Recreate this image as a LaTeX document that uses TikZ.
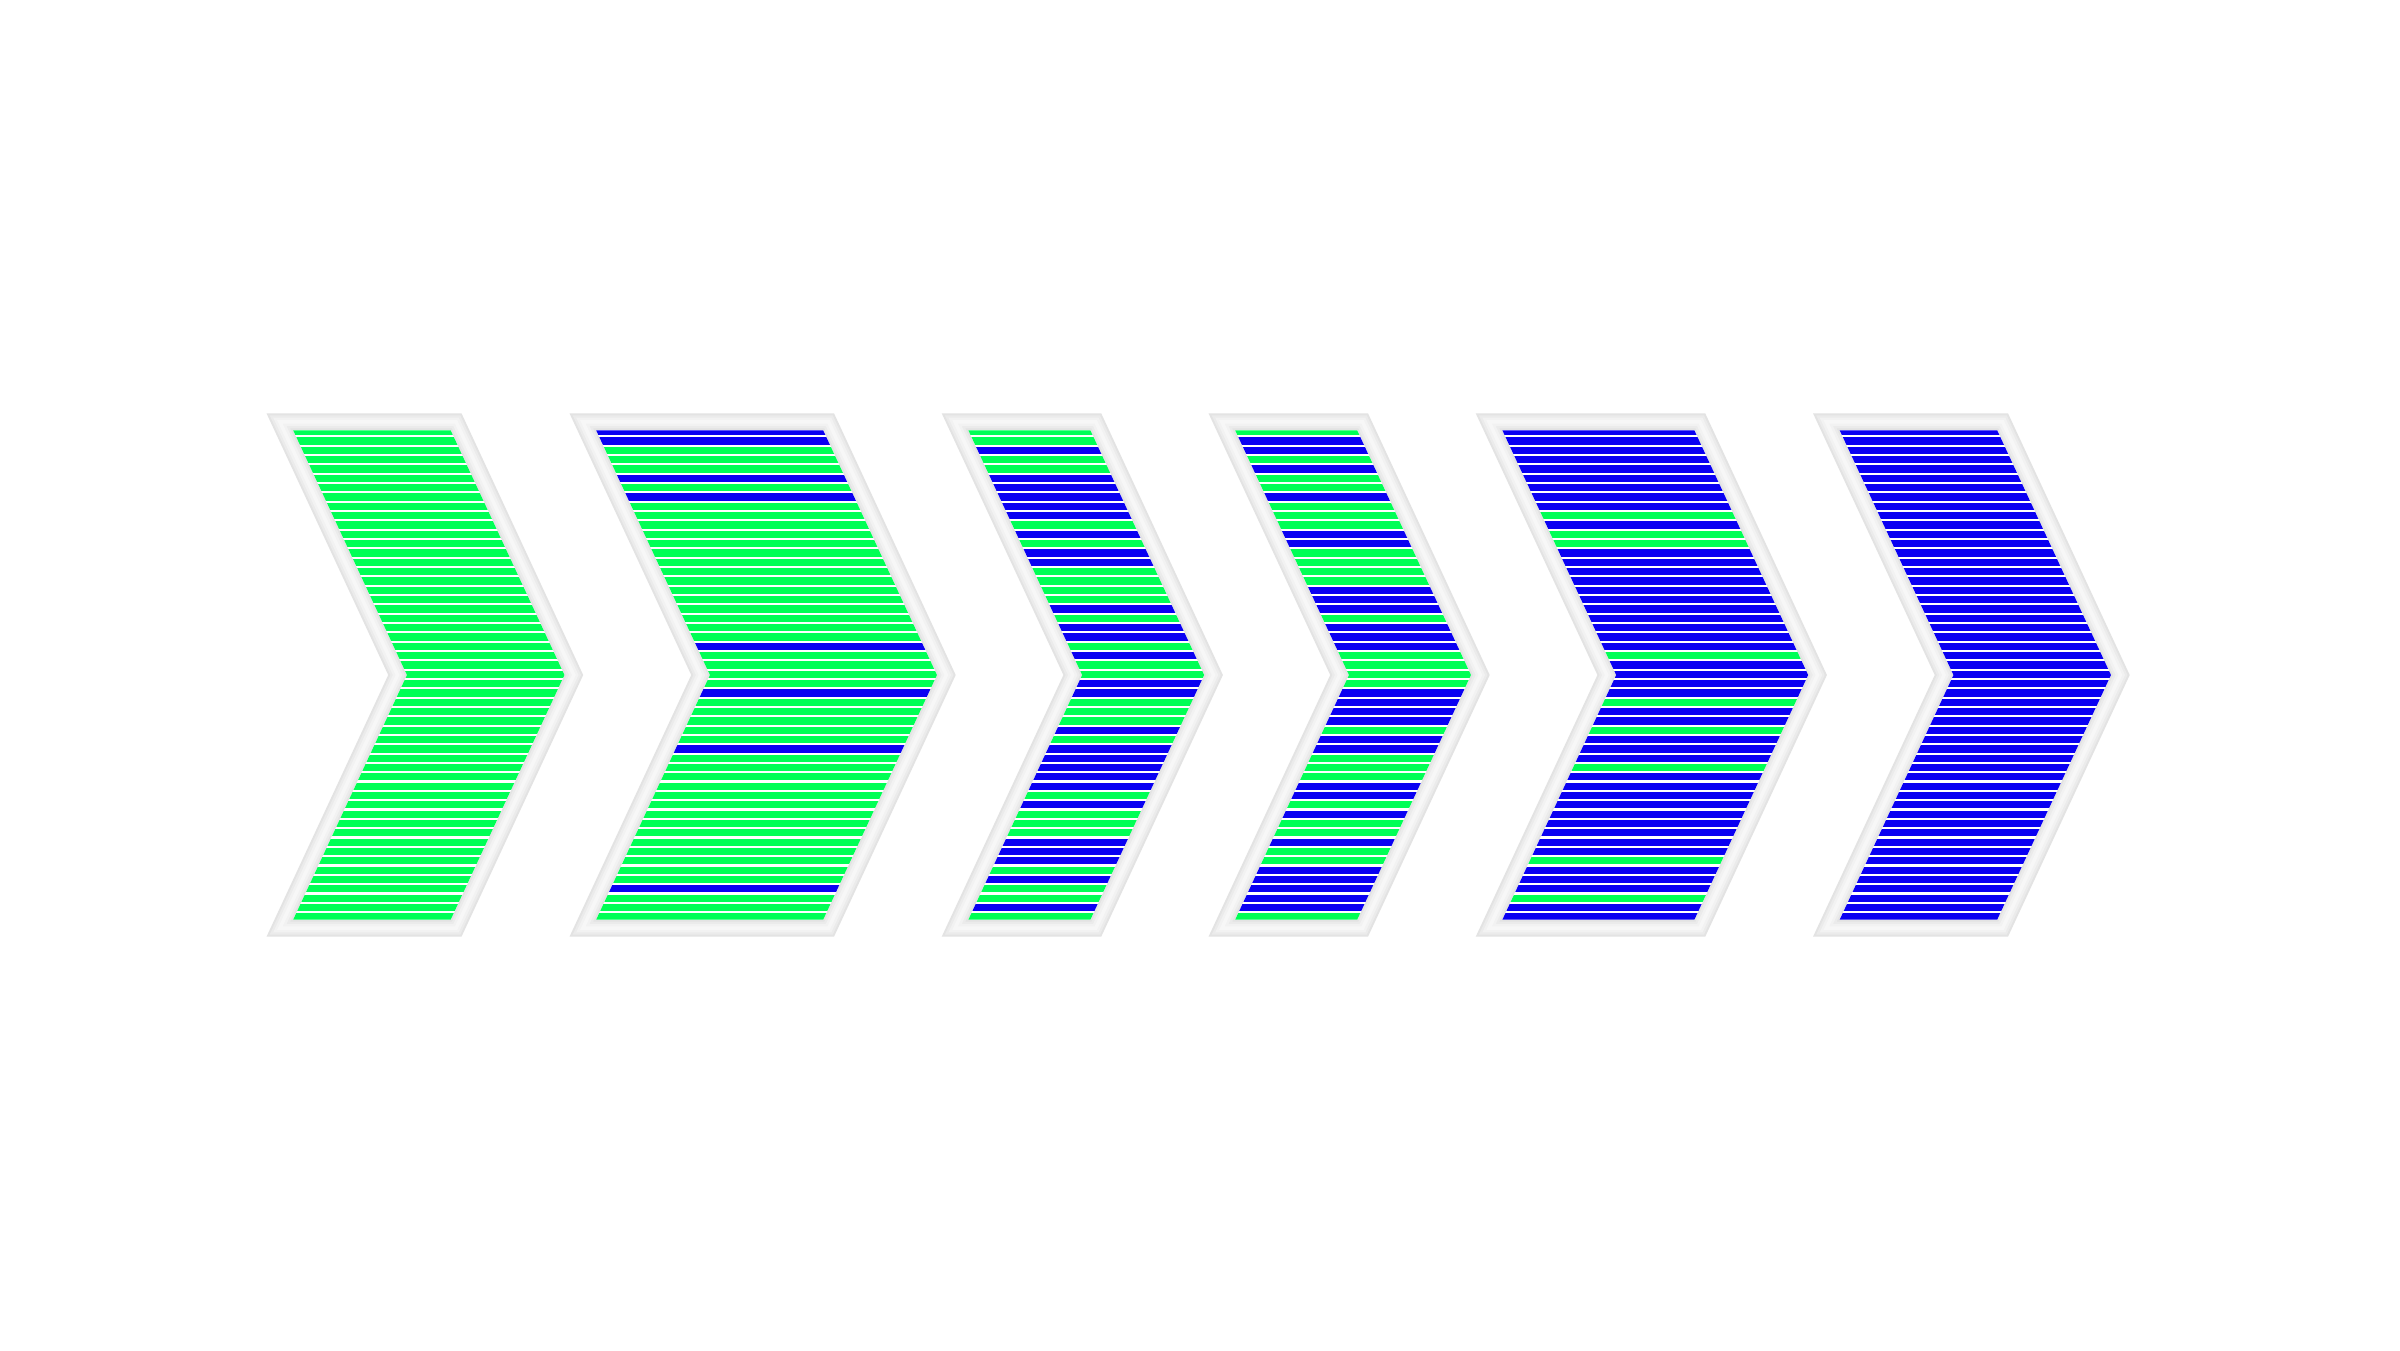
\documentclass[tikz,border=0pt]{standalone}
\definecolor{cg}{HTML}{00FF55}
\definecolor{cb}{HTML}{0A00F2}
\definecolor{frA}{HTML}{E3E3E3}
\definecolor{frB}{HTML}{EBEBEB}
\definecolor{frC}{HTML}{F2F2F2}
\definecolor{frD}{HTML}{F7F7F7}
% chevron geometry: top 413.3, bottom 936.7, middle 675, point offset 121.7
\newcommand\chevset[3]{%
  \pgfmathsetmacro\hh{#3*1.10284}%
  \pgfmathsetmacro\xa{#1+\hh+0.46503*#3}%
  \pgfmathsetmacro\xb{#1+\hh+121.7}%
  \pgfmathsetmacro\xc{#1+#2-\hh+0.46503*#3}%
  \pgfmathsetmacro\xd{#1+#2-\hh+121.7}%
  \pgfmathsetmacro\yt{413.3+#3}%
  \pgfmathsetmacro\yb{936.7-#3}}
\newcommand\chevpts{(\xa,\yt) -- (\xc,\yt) -- (\xd,675) -- (\xc,\yb) -- (\xa,\yb) -- (\xb,675) -- cycle}
\newcommand\mychevron[3]{%
  \chevset{#1}{#2}{8.5}%
  \draw[frA, line width=17pt] \chevpts;
  \draw[frB, line width=13pt] \chevpts;
  \draw[frC, line width=8.5pt] \chevpts;
  \draw[frD, line width=3.5pt] \chevpts;
  \chevset{#1}{#2}{17}%
  \begin{scope}
    \clip \chevpts;
    \fill[white] (#1,420) rectangle (#1+#2+140,930);
    \foreach \c [count=\k] in #3 {
      \pgfmathsetmacro\yy{431.7+(\k-1)*9.33}
      \fill[\c] (#1,\yy-3.57) rectangle (#1+#2+140,\yy+3.57);
    }
  \end{scope}}
\def\patA{cg,cg,cg,cg,cg,cg,cg,cg,cg,cg,cg,cg,cg,cg,cg,cg,cg,cg,cg,cg,cg,cg,cg,cg,cg,cg,cg,cg,cg,cg,cg,cg,cg,cg,cg,cg,cg,cg,cg,cg,cg,cg,cg,cg,cg,cg,cg,cg,cg,cg,cg,cg,cg}
\def\patB{cb,cb,cg,cg,cg,cb,cg,cb,cg,cg,cg,cg,cg,cg,cg,cg,cg,cg,cg,cg,cg,cg,cg,cb,cg,cg,cg,cg,cb,cg,cg,cg,cg,cg,cb,cg,cg,cg,cg,cg,cg,cg,cg,cg,cg,cg,cg,cg,cg,cb,cg,cg,cg}
\def\patC{cg,cg,cb,cg,cg,cb,cb,cb,cb,cb,cg,cb,cg,cb,cb,cg,cg,cg,cg,cb,cg,cb,cb,cg,cb,cg,cg,cb,cb,cg,cg,cg,cb,cg,cb,cb,cb,cb,cb,cg,cb,cg,cg,cg,cb,cb,cb,cg,cb,cg,cg,cb,cg}
\def\patD{cg,cb,cb,cg,cb,cg,cg,cb,cg,cg,cg,cb,cb,cg,cg,cg,cg,cb,cb,cb,cg,cb,cb,cb,cg,cg,cg,cg,cb,cb,cb,cb,cg,cb,cb,cg,cg,cg,cb,cb,cg,cb,cg,cg,cb,cg,cg,cb,cb,cb,cb,cb,cg}
\def\patE{cb,cb,cb,cb,cb,cb,cb,cb,cb,cg,cb,cg,cg,cb,cb,cb,cb,cb,cb,cb,cb,cb,cb,cb,cg,cb,cb,cb,cb,cg,cb,cb,cg,cb,cb,cb,cg,cb,cb,cb,cb,cb,cb,cb,cb,cb,cg,cb,cb,cb,cg,cb,cb}
\def\patF{cb,cb,cb,cb,cb,cb,cb,cb,cb,cb,cb,cb,cb,cb,cb,cb,cb,cb,cb,cb,cb,cb,cb,cb,cb,cb,cb,cb,cb,cb,cb,cb,cb,cb,cb,cb,cb,cb,cb,cb,cb,cb,cb,cb,cb,cb,cb,cb,cb,cb,cb,cb,cb}
\begin{document}
\begin{tikzpicture}[x=1pt,y=-1pt]
  \useasboundingbox (0,0) rectangle (2400,1350);
  \fill[white] (0,0) rectangle (2400,1350);
  \mychevron{266.5}{195}{\patA}
  \mychevron{569.5}{264.5}{\patB}
  \mychevron{941.7}{159.5}{\patC}
  \mychevron{1208.5}{159.5}{\patD}
  \mychevron{1475.7}{229.5}{\patE}
  \mychevron{1813}{195}{\patF}
\end{tikzpicture}
\end{document}
